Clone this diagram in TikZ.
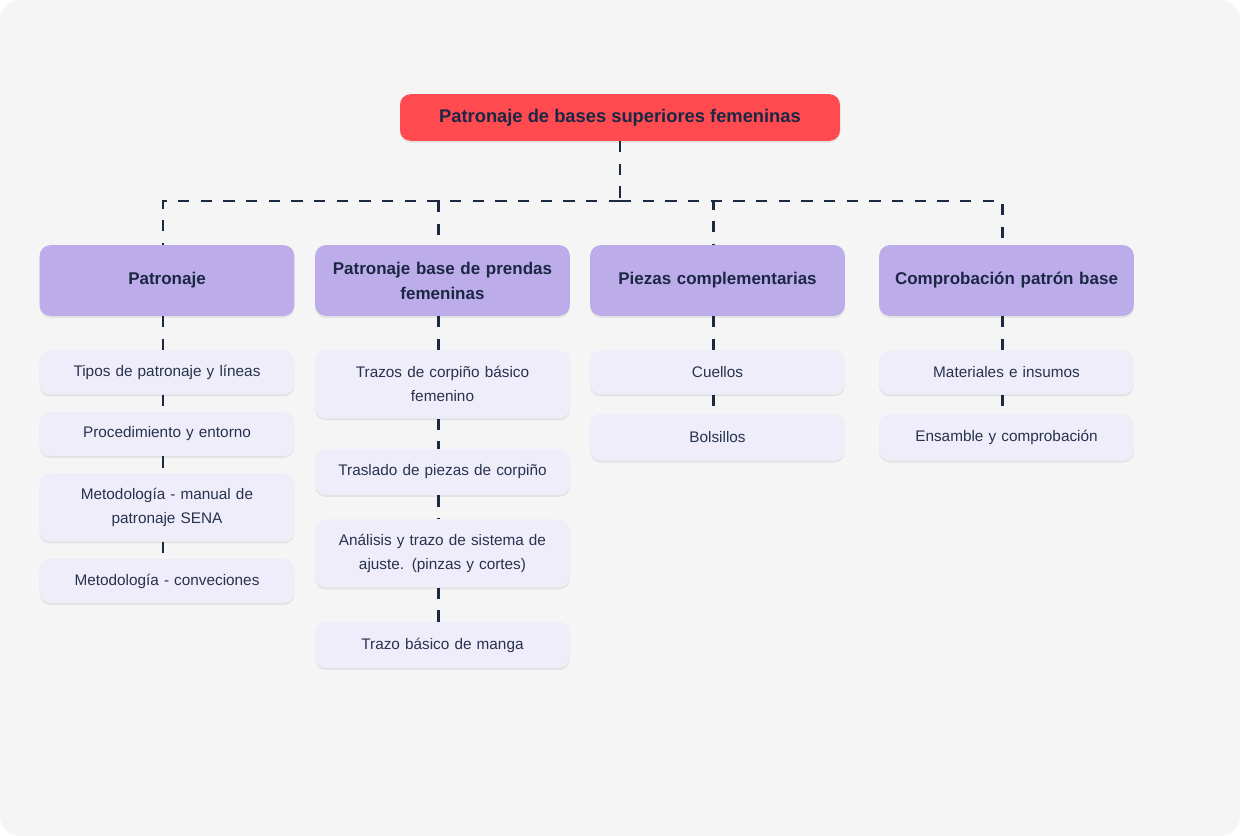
\documentclass[tikz,border=0pt]{standalone}
\usepackage{fontspec}
\setmainfont{Liberation Sans}
\usepackage{xcolor}
\usepackage{tikz}
\usetikzlibrary{positioning,shadows}

\definecolor{canvas}{HTML}{F5F5F5}
\definecolor{rootred}{HTML}{FF4A50}
\definecolor{headlav}{HTML}{BCADEA}
\definecolor{itemlav}{HTML}{F0EDFB}
\definecolor{ink}{HTML}{1B2744}
\definecolor{itemink}{HTML}{27324D}
\definecolor{linkblue}{HTML}{1B2A40}

\begin{document}
\begin{tikzpicture}[
  x=0.75pt, y=-0.75pt,
  soft/.style={drop shadow={shadow xshift=0pt, shadow yshift=-1.5pt, opacity=0.07, fill=black}},
  rootbox/.style={soft, rounded corners=8pt, fill=rootred, text=ink, minimum width=330pt, minimum height=35pt,
                  font=\bfseries\fontsize{13.75}{16}\selectfont},
  headbox/.style={soft, rounded corners=8pt, fill=headlav, text=ink, minimum width=191pt, minimum height=53pt,
                  text width=175pt, align=center, font=\bfseries\fontsize{12.75}{18.75}\selectfont},
  itembox/.style={soft, rounded corners=8pt, fill=itemlav, text=itemink, minimum width=191pt, minimum height=33pt,
                  text width=175pt, align=center, font=\fontsize{11.5}{18}\selectfont},
  twoline/.style={minimum height=51pt},
  link/.style={draw=linkblue, line width=2pt, dash pattern=on 8.5pt off 8.5pt}
]
  \useasboundingbox (0,0) rectangle (1240,836);
  \fill[white] (0,0) rectangle (1240,836);
  \fill[canvas, rounded corners=15pt] (0,0) rectangle (1240,836);

  \node[rootbox] (root) at (620,117.5) {Patronaje de bases superiores femeninas};

  \node[headbox] (patron) at (167,280.5) {Patronaje};
  \node[headbox] (prendas) at (442.5,280.5) {Patronaje base de prendas\\femeninas};
  \node[headbox] (piezas) at (717.5,280.5) {Piezas complementarias};
  \node[headbox] (comprob) at (1006.5,280.5) {Comprobación patrón base};

  \node[itembox, below=25.5pt of patron] (tipos) {Tipos de patronaje y líneas};
  \node[itembox, below=12.75pt of tipos] (proced) {Procedimiento y entorno};
  \node[itembox, twoline, below=12.75pt of proced] (manual) {Metodología - manual de\\patronaje SENA};
  \node[itembox, below=12.75pt of manual] (convec) {Metodología - conveciones};

  \node[itembox, twoline, below=25.5pt of prendas] (corpino) {Trazos de corpiño básico\\femenino};
  \node[itembox, minimum height=34.5pt, below=22.5pt of corpino] (traslado) {Traslado de piezas de corpiño};
  \node[itembox, twoline, below=18pt of traslado] (ajuste) {Análisis y trazo de sistema de\\ajuste. (pinzas y cortes)};
  \node[itembox, minimum height=34.5pt, below=25.5pt of ajuste] (manga) {Trazo básico de manga};

  \node[itembox, below=25.5pt of piezas] (cuellos) {Cuellos};
  \node[itembox, minimum height=35pt, below=14.25pt of cuellos] (bolsillos) {Bolsillos};

  \node[itembox, below=25.5pt of comprob] (insumos) {Materiales e insumos};
  \node[itembox, minimum height=35pt, below=14.25pt of insumos] (ensamble) {Ensamble y comprobación};

  \coordinate (fork) at (620,201);
  \draw[link] (root.south) -- (fork);
  \foreach \h in {patron,prendas,piezas,comprob}
    \draw[link] (fork) -| ([xshift=-3pt]\h.north);

  \draw[link] ([xshift=-3pt]patron.south) -- ([xshift=-3pt]tipos.north);
  \draw[link] ([xshift=-3pt]tipos.south) -- ([xshift=-3pt]proced.north);
  \draw[link] ([xshift=-3pt]proced.south) -- ([xshift=-3pt]manual.north);
  \draw[link] ([xshift=-3pt]manual.south) -- ([xshift=-3pt]convec.north);

  \draw[link] ([xshift=-3pt]prendas.south) -- ([xshift=-3pt]corpino.north);
  \draw[link] ([xshift=-3pt]corpino.south) -- ([xshift=-3pt]traslado.north);
  \draw[link] ([xshift=-3pt]traslado.south) -- ([xshift=-3pt]ajuste.north);
  \draw[link] ([xshift=-3pt]ajuste.south) -- ([xshift=-3pt]manga.north);

  \draw[link] ([xshift=-3pt]piezas.south) -- ([xshift=-3pt]cuellos.north);
  \draw[link] ([xshift=-3pt]cuellos.south) -- ([xshift=-3pt]bolsillos.north);

  \draw[link] ([xshift=-3pt]comprob.south) -- ([xshift=-3pt]insumos.north);
  \draw[link] ([xshift=-3pt]insumos.south) -- ([xshift=-3pt]ensamble.north);
\end{tikzpicture}
\end{document}
